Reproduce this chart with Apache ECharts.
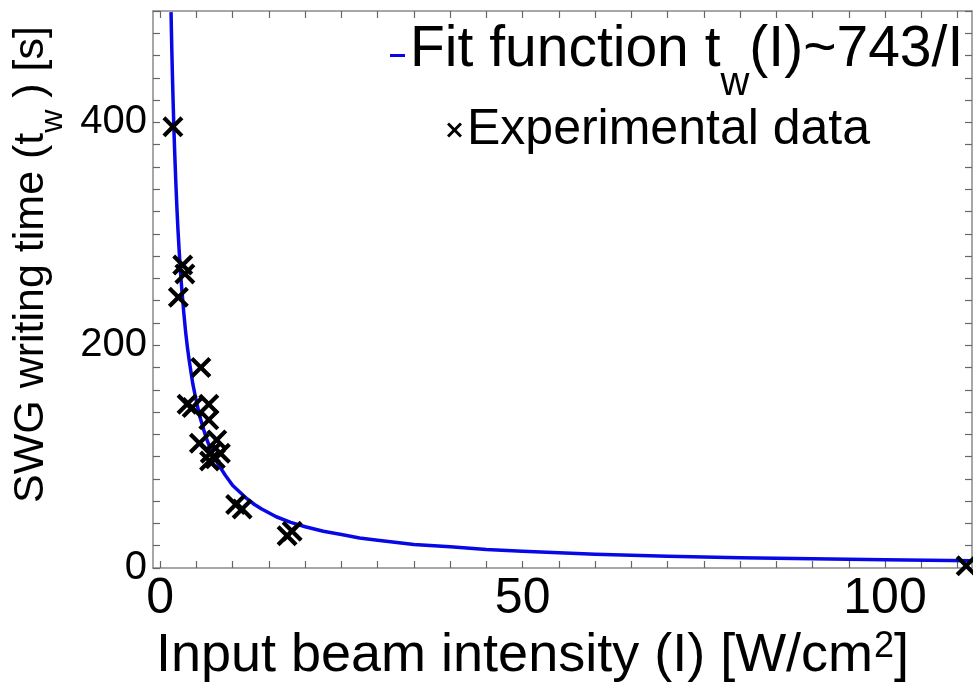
<!DOCTYPE html>
<html>
<head>
<meta charset="utf-8">
<script src="https://cdn.jsdelivr.net/npm/echarts@6/dist/echarts.min.js"></script>
<style>html,body{margin:0;padding:0;background:#fff}#c{width:973px;height:690px}</style>
</head>
<body>
<div id="c"></div>
<script>
// Fit curve t_w(I) ~ 743/I
const curveI = [1.49, 1.55, 1.6, 1.7, 1.8, 1.9, 2, 2.15, 2.3, 2.45, 2.6, 2.8, 3, 3.25, 3.5, 3.75, 4, 4.5, 5, 5.5, 6, 6.5, 7, 7.5, 8, 9, 10, 11, 12, 13, 14, 16, 18, 20, 22.5, 25, 27.5, 30, 35, 40, 45, 50, 60, 70, 80, 90, 100, 112];
const curveT = [499, 479, 464, 437, 413, 391, 372, 346, 323, 303, 286, 265, 248, 229, 212, 198, 186, 165, 149, 135, 124, 114, 106, 99, 93, 83, 74, 68, 62, 57, 53, 46, 41, 37, 33, 30, 27, 25, 21, 19, 16.5, 15, 12.4, 10.6, 9.3, 8.3, 7.4, 6.6];
// Experimental data (I in W/cm^2, t_w in s)
const expI = [1.75, 3.1, 3.4, 2.5, 5.6, 3.7, 4.4, 6.7, 6.7, 5.4, 7.8, 6.9, 7.6, 8.3, 6.8, 10.4, 11.3, 17.5, 18.2, 111.2];
const expT = [396, 272, 264, 243, 180, 147, 144, 147, 133, 112, 115, 103, 98, 103, 96, 57, 53, 29, 33, 2];
// Axis ticks and labels
const xLabels = [0, 50, 100];
const xTicks = [0, 5, 10, 15, 20, 25, 30, 35, 40, 45, 50, 55, 60, 65, 70, 75, 80, 85, 90, 95, 100, 105, 110];
const yLabels = [0, 200, 400];
const yTicks = [0, 20, 40, 60, 80, 100, 120, 140, 160, 180, 200, 220, 240, 260, 280, 300, 320, 340, 360, 380, 400, 420, 440, 460, 480, 500];

const FONT = 'Liberation Sans, Arial, sans-serif';
const BLUE = '#0808e6';
const crossPath = 'path://M0,2.8 L2.8,0 L10,7.2 L17.2,0 L20,2.8 L12.8,10 L20,17.2 L17.2,20 L10,12.8 L2.8,20 L0,17.2 L7.2,10 Z';

const axisLineStyle = { color: '#8a8a8a', width: 1.5 };
const tickStyle = { color: '#666', width: 1.2 };

function xAxisDef(pos, showLabel) {
  return {
    type: 'value', position: pos, min: -1, max: 112,
    axisLine: { show: true, onZero: false, lineStyle: axisLineStyle },
    axisTick: { show: true, inside: true, length: 7, customValues: xTicks, lineStyle: tickStyle },
    axisLabel: { show: showLabel, customValues: xLabels, fontSize: 50, color: '#000', fontFamily: FONT, margin: 6 },
    splitLine: { show: false }
  };
}
function yAxisDef(pos, showLabel) {
  return {
    type: 'value', position: pos, min: 0, max: 500,
    axisLine: { show: true, onZero: false, lineStyle: axisLineStyle },
    axisTick: { show: true, inside: true, length: 7, customValues: yTicks, lineStyle: tickStyle },
    axisLabel: { show: showLabel, customValues: yLabels, fontSize: 40, color: '#000', fontFamily: FONT, margin: 6 },
    splitLine: { show: false }
  };
}

const xMain = xAxisDef('bottom', true);
xMain.name = '{m|Input beam intensity (I) [W/cm}{p|2}{m|]}';
xMain.nameLocation = 'middle';
xMain.nameGap = 48;
xMain.nameTextStyle = {
  padding: [0, 60, 0, 0],
  rich: {
    m: { fontSize: 54, lineHeight: 68, verticalAlign: 'top', color: '#000', fontFamily: FONT },
    p: { fontSize: 36, lineHeight: 36, verticalAlign: 'top', padding: [0, 0, 0, 1], color: '#000', fontFamily: FONT }
  }
};
const yMain = yAxisDef('left', true);
yMain.name = '{m|SWG writing time (t}{s|w}{m| ) [s]}';
yMain.nameLocation = 'middle';
yMain.nameRotate = 90;
yMain.nameGap = 82;
yMain.nameTextStyle = {
  padding: [0, 0, 0, 50],
  rich: {
    m: { fontSize: 43, lineHeight: 50, verticalAlign: 'top', color: '#000', fontFamily: FONT },
    s: { fontSize: 32, lineHeight: 32, verticalAlign: 'top', padding: [28, 0, 0, 0], color: '#000', fontFamily: FONT }
  }
};

const option = {
  animation: false,
  backgroundColor: '#fff',
  textStyle: { fontFamily: FONT },
  grid: { left: 153, right: 1, top: 11, bottom: 122, containLabel: false },
  xAxis: [xMain, xAxisDef('top', false)],
  yAxis: [yMain, yAxisDef('right', false)],
  legend: [
    {
      data: [{ name: 'fit', icon: 'rect' }],
      left: 390, top: 22, padding: 0,
      itemWidth: 15, itemHeight: 3,
      formatter: function () { return '{a|Fit function t}{s|w}{a|(I)~743/I}'; },
      textStyle: {
        rich: {
          a: { fontSize: 57, lineHeight: 67, verticalAlign: 'top', color: '#000', fontFamily: FONT },
          s: { fontSize: 40, lineHeight: 40, verticalAlign: 'top', padding: [42, 0, 0, 0], color: '#000', fontFamily: FONT }
        }
      }
    },
    {
      data: [{ name: 'exp' }],
      left: 447, top: 100, padding: 0,
      itemWidth: 15, itemHeight: 15,
      formatter: function () { return 'Experimental data'; },
      textStyle: { fontSize: 50, lineHeight: 60, color: '#000', fontFamily: FONT }
    }
  ],
  series: [
    {
      name: 'fit', type: 'line', xAxisIndex: 0, yAxisIndex: 0,
      data: curveI.map((v, i) => [v, curveT[i]]),
      showSymbol: false, symbol: 'none', smooth: false, clip: true,
      color: BLUE,
      lineStyle: { color: BLUE, width: 3.5, join: 'round' },
      z: 2
    },
    {
      name: 'exp', type: 'scatter', xAxisIndex: 0, yAxisIndex: 0,
      data: expI.map((v, i) => [v, expT[i]]),
      symbol: crossPath, symbolSize: 21,
      color: '#000',
      itemStyle: { color: '#000', opacity: 1 },
      clip: false,
      z: 3
    }
  ]
};
const chart = echarts.init(document.getElementById('c'), null, { renderer: 'canvas' });
chart.setOption(option);
</script>
</body>
</html>
